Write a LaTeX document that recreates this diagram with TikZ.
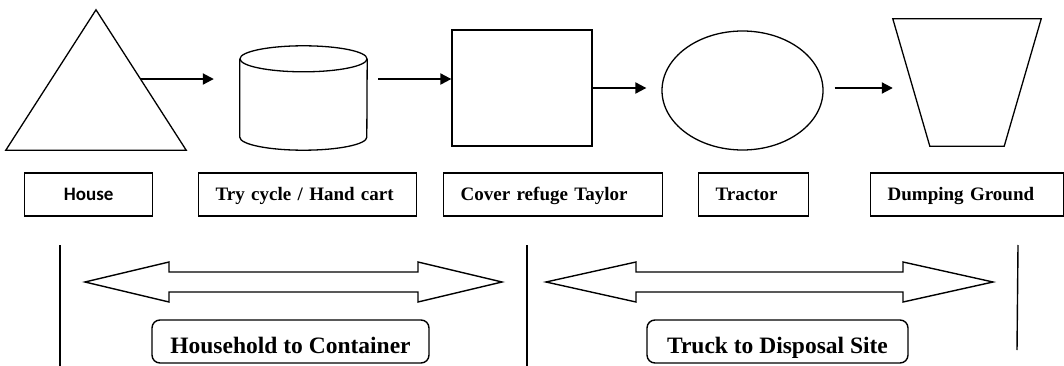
\documentclass[tikz,border=0pt]{standalone}
\usepackage{fontspec}
\setmainfont{Liberation Serif}
\newfontfamily\housefont{Carlito}
\usetikzlibrary{calc}
\usetikzlibrary{positioning}
\usetikzlibrary{arrows.meta}
\usetikzlibrary{shapes.geometric}
\tikzset{
outline/.style={draw, line width=1.3pt},
flow/.style={-{Triangle[length=11pt,width=11pt]}, line width=2pt},
namebox/.style={draw, line width=1.4pt, minimum height=43pt, inner xsep=17pt, inner ysep=0pt,
	text height=14pt, text depth=3pt,
	anchor=west, align=left, font=\fontsize{19}{22}\selectfont\bfseries},
stagebox/.style={draw, line width=1.4pt, rounded corners=8pt, minimum height=43pt,
	text height=25pt, text depth=2pt, inner ysep=0pt,
	font=\fontsize{23.5}{27}\selectfont\bfseries},
}
\newcommand{\spanarrow}[3]{%
	\draw[line width=1.4pt] (#1,282) -- ++(#3,-20) -- ++(0,10) -- (#2-#3,272) -- ++(0,-10)
	-- (#2,282) -- (#2-#3,302) -- ++(0,-10) -- (#1+#3,292) -- ++(0,10) -- cycle;
}

\begin{document}
\begin{tikzpicture}[x=1pt, y=-1pt]
\tikzstyle{frame}=[minimum width=#1, inner sep=0pt]
\useasboundingbox (0,0) rectangle (1064,366);
%Place the nodes
\node[frame=180pt, minimum height=140pt] (house) at (96,80) {};
\node[frame=127pt, minimum height=104pt] (cart) at (303.5,98) {};
\node[frame=140pt, minimum height=116pt, outline] (cover) at (522,88) {};
\node[frame=161pt, minimum height=119pt, outline, ellipse] (tractor) at (742.5,90.5) {};
\node[frame=148pt, minimum height=127pt] (dump) at (967,82.5) {};

%
\draw[outline] (house.south west) -- (house.north) -- (house.south east) -- cycle;
\draw[outline] ([yshift=-13pt]cart.north) ellipse [x radius=63.5pt, y radius=13pt];
\draw[outline] ([yshift=-13pt]cart.north west) -- ([yshift=13pt]cart.south west)
	arc[start angle=180, end angle=360, x radius=63.5pt, y radius=13pt] -- ([yshift=-13pt]cart.north east);
\draw[outline] (dump.north west) -- (dump.north east) -- ([xshift=-37pt]dump.south east)
	-- ([xshift=37pt]dump.south west) -- cycle;

%
\coordinate (h1) at ($(house.north)!0.493!(house.south east)$);
\draw[flow, shorten >=26pt] (h1) to (cart.west |- h1);
\draw[flow, shorten <=11pt] (cart.east |- h1) to (cover.west |- h1);
\draw[flow, shorten >=15pt] (cover.east) to (tractor.west |- cover.east);
\draw[flow, shorten <=11pt] (tractor.east |- cover.east) to (dump.west |- cover.east);

%
\node[namebox, text width=94pt, align=center, font=\housefont\fontsize{19}{22}\selectfont\bfseries]
	(houselabel) at (24,194.5) {House};
\node[namebox, text width=184pt] (cartlabel) at (198,194.5) {Try cycle / Hand cart};
\node[namebox, text width=185pt] (coverlabel) at (443,194.5) {Cover refuge Taylor};
\node[namebox, text width=76pt] (tractorlabel) at (698,194.5) {Tractor};
\node[namebox, text width=159pt] (dumplabel) at (870,194.5) {Dumping Ground};

%
\foreach \x in {60, 527} {
	\draw[line width=1.4pt] (\x,245) -- (\x,366);
}
\draw[line width=1.4pt] (1018,245) -- (1017,350);

\foreach \a/\b/\h in {85/502/84, 546/993/90} {
	\spanarrow{\a}{\b}{\h}
}

\node[stagebox, minimum width=277pt] (homestage) at (290.5,341.5) {Household to Container};
\node[stagebox, minimum width=261pt] (truckstage) at (777.5,341.5) {Truck to Disposal Site};

\end{tikzpicture}
\end{document}
